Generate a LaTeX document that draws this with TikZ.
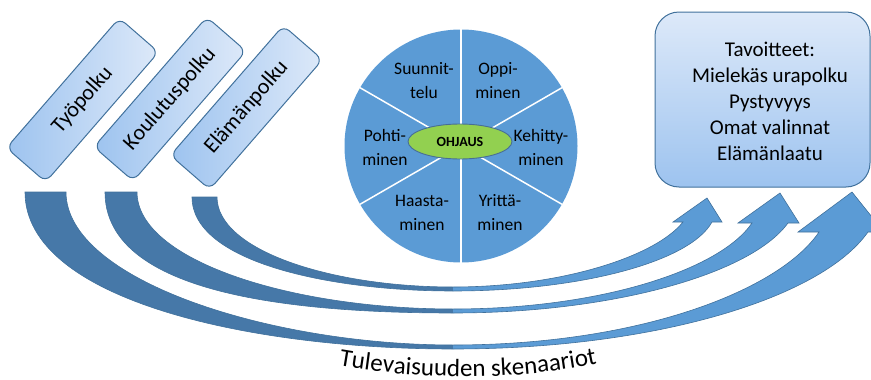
\documentclass[tikz,border=0pt]{standalone}
\usepackage{fontspec}
\setmainfont{Carlito}
\usetikzlibrary{shapes.geometric,decorations.text}
\definecolor{arrdark}{RGB}{70,120,168}
\definecolor{arrlight}{RGB}{91,155,213}
\definecolor{arrline}{RGB}{65,113,156}
\definecolor{piefill}{RGB}{91,155,213}
\definecolor{boxtop}{RGB}{221,233,249}
\definecolor{boxbot}{RGB}{157,195,239}
\definecolor{boxline}{RGB}{65,113,156}
\definecolor{ohjfill}{RGB}{146,208,80}
\definecolor{ohjline}{RGB}{72,110,150}
\begin{document}
\begin{tikzpicture}[x=1pt,y=-1pt,
  pathbox/.style={draw=boxline, line width=1pt, rounded corners=8pt,
    minimum width=172pt, minimum height=52pt, inner sep=0pt,
    left color=boxbot, right color=boxtop, rotate=49,
    font=\fontsize{22}{26}\selectfont},
  goalbox/.style={draw=boxline, line width=1pt, rounded corners=24pt,
    minimum width=215pt, minimum height=175pt, inner sep=0pt,
    top color=boxtop, bottom color=boxbot},
  goaltext/.style={align=center, font=\fontsize{21}{26}\selectfont},
  sector/.style={align=center, font=\fontsize{17.5}{24}\selectfont, inner sep=0pt},
  arrowedge/.style={draw=arrline, line width=0.6pt},
]
\useasboundingbox (0,0) rectangle (871,380);

% ---- curved arrows ----
% outer arrow (Tyopolku)
\fill[arrdark] (25,192) .. controls (25,300) and (250,349) .. (453,349) -- (453,345)
  .. controls (270,345) and (66,280) .. (66,192) -- cycle;
\fill[arrlight] (453,349) .. controls (650,349) and (820,300) .. (868,232) -- (884,232) -- (852,192) -- (798,232) -- (819,232)
  .. controls (780,290) and (640,345) .. (453,345) -- cycle;
\path[arrowedge] (25,192) .. controls (25,300) and (250,349) .. (453,349)
  .. controls (650,349) and (820,300) .. (868,232) -- (884,232) -- (852,192) -- (798,232) -- (819,232)
  .. controls (780,290) and (640,345) .. (453,345) .. controls (270,345) and (66,280) .. (66,192) -- cycle;

% middle arrow (Koulutuspolku)
\fill[arrdark] (105,192) .. controls (105,285) and (260,313) .. (453,313) -- (453,309)
  .. controls (290,309) and (137,260) .. (137,192) -- cycle;
\fill[arrlight] (453,313) .. controls (610,313) and (750,275) .. (788,223) -- (799,223) -- (780,193) -- (738,223) -- (752,223)
  .. controls (720,270) and (600,309) .. (453,309) -- cycle;
\path[arrowedge] (105,192) .. controls (105,285) and (260,313) .. (453,313)
  .. controls (610,313) and (750,275) .. (788,223) -- (799,223) -- (780,193) -- (738,223) -- (752,223)
  .. controls (720,270) and (600,309) .. (453,309) .. controls (290,309) and (137,260) .. (137,192) -- cycle;

% inner arrow (Elamanpolku)
\fill[arrdark] (192,197) .. controls (192,262) and (330,291) .. (453,291) -- (453,287)
  .. controls (330,287) and (217,250) .. (217,197) -- cycle;
\fill[arrlight] (453,291) .. controls (580,291) and (690,262) .. (712,222) -- (722,222) -- (707,198) -- (673,222) -- (683,222)
  .. controls (655,257) and (560,287) .. (453,287) -- cycle;
\path[arrowedge] (192,197) .. controls (192,262) and (330,291) .. (453,291)
  .. controls (580,291) and (690,262) .. (712,222) -- (722,222) -- (707,198) -- (673,222) -- (683,222)
  .. controls (655,257) and (560,287) .. (453,287) .. controls (330,287) and (217,250) .. (217,197) -- cycle;

% ---- path boxes ----
\node[pathbox] (tyo) at (82.5,100) {Työpolku};
\node[pathbox] (koulu) at (170,99) {Koulutuspolku};
\node[pathbox] (elama) at (246.5,107.5) {Elämänpolku};

% ---- wheel ----
\node[circle, fill=piefill, minimum size=233pt, inner sep=0pt] (wheel) at (461,146) {};
\foreach \a in {90,270,30,150,210,330}
  \draw[white, line width=1.5pt] (wheel.center) -- (wheel.\a);
\node[ellipse, fill=ohjfill, draw=ohjline, line width=0.9pt, minimum width=104pt, minimum height=35pt,
  inner sep=0pt, font=\bfseries\fontsize{14}{14}\selectfont] (ohj) at (460,141.5) {OHJAUS};
\node[sector] (s1) at (424,81) {Suunnit-\\telu};
\node[sector] (s2) at (498,81) {Oppi-\\minen};
\node[sector] (s3) at (385,147) {Pohti-\\minen};
\node[sector] (s4) at (541,147) {Kehitty-\\minen};
\node[sector] (s5) at (422,213) {Haasta-\\minen};
\node[sector] (s6) at (500,213) {Yrittä-\\minen};

% ---- goals ----
\node[goalbox] (goal) at (762.5,99.5) {};
\node[goaltext] (goaltxt) at (770,101) {Tavoitteet:\\Mielekäs urapolku\\Pystyvyys\\Omat valinnat\\Elämänlaatu};

% ---- bottom caption ----
\path[decorate, decoration={text along path, text align=center,
  text={|\fontsize{25}{25}\selectfont|Tulevaisuuden skenaariot}}]
  (330,364) .. controls (420,381) and (520,381) .. (606,362);
\end{tikzpicture}
\end{document}
